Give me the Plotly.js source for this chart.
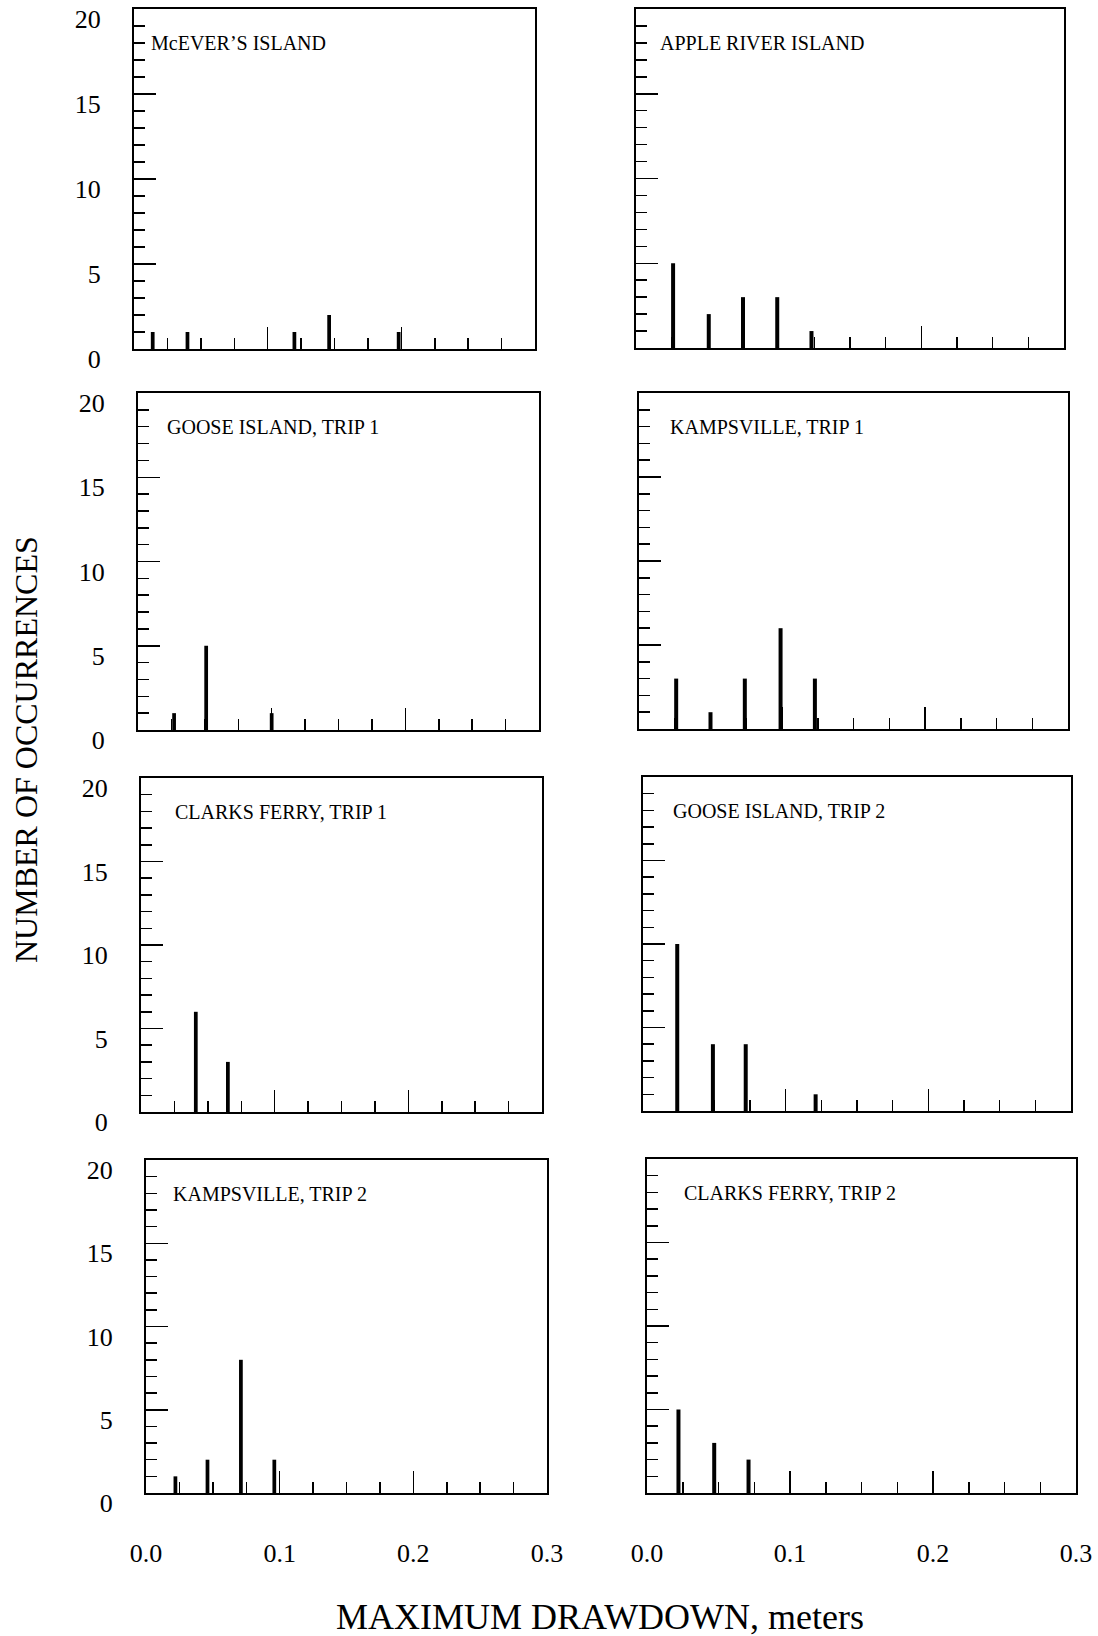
<!DOCTYPE html>
<html>
<head>
<meta charset="utf-8">
<script src="https://cdn.plot.ly/plotly-3.0.1.min.js"></script>
<style>
  html, body { margin: 0; padding: 0; background: #fff; }
  #chart { width: 1098px; height: 1636px; }
</style>
</head>
<body>
<div id="chart"></div>
<script>
// ---------- DATA ----------
const panelNames = [
  "McEVER\u2019S ISLAND", "APPLE RIVER ISLAND",
  "GOOSE ISLAND, TRIP 1", "KAMPSVILLE, TRIP 1",
  "CLARKS FERRY, TRIP 1", "GOOSE ISLAND, TRIP 2",
  "KAMPSVILLE, TRIP 2", "CLARKS FERRY, TRIP 2"
];
const mceverX = [0.014, 0.040, 0.120, 0.146, 0.198];
const mceverY = [1, 1, 1, 2, 1];
const appleX = [0.026, 0.051, 0.075, 0.099, 0.123];
const appleY = [5, 2, 3, 3, 1];
const goose1X = [0.027, 0.051, 0.100];
const goose1Y = [1, 5, 1];
const kamps1X = [0.026, 0.050, 0.074, 0.099, 0.123];
const kamps1Y = [3, 1, 3, 6, 3];
const clarks1X = [0.041, 0.065];
const clarks1Y = [6, 3];
const goose2X = [0.024, 0.049, 0.072, 0.121];
const goose2Y = [10, 4, 4, 1];
const kamps2X = [0.022, 0.046, 0.071, 0.096];
const kamps2Y = [1, 2, 8, 2];
const clarks2X = [0.022, 0.047, 0.071];
const clarks2Y = [5, 3, 2];
const xTickVals = [0, 0.1, 0.2, 0.3];
const xTickText = ["0.0", "0.1", "0.2", "0.3"];
const yTickVals = [0, 5, 10, 15, 20];
const yTickText = ["0", "5", "10", "15", "20"];
const xTitle = "MAXIMUM DRAWDOWN, meters";
const yTitle = "NUMBER OF OCCURRENCES";

const seriesX = [mceverX, appleX, goose1X, kamps1X, clarks1X, goose2X, kamps2X, clarks2X];
const seriesY = [mceverY, appleY, goose1Y, kamps1Y, clarks1Y, goose2Y, kamps2Y, clarks2Y];

// ---------- LAYOUT (pixel boxes of each panel) ----------
const W = 1098, H = 1636;
const boxes = [
  [134, 535, 9, 349], [636, 1064, 9, 348],
  [138, 539, 393, 730], [639, 1068, 393, 729],
  [141, 542, 778, 1112], [643, 1071, 777, 1111],
  [146, 547, 1160, 1493], [647, 1076, 1159, 1493]
];
const labelPos = [
  [149, 43], [658, 43], [165, 427], [668, 427],
  [173, 812], [671, 811], [171, 1194], [682, 1193]
];
const px = v => v / W;
const py = v => 1 - v / H;
const FONT = "Liberation Serif, Times New Roman, serif";

const traces = [];
const layout = {
  width: W, height: H,
  margin: {l: 0, r: 0, t: 0, b: 0},
  paper_bgcolor: "white", plot_bgcolor: "white",
  showlegend: false,
  font: {family: FONT, color: "black", size: 24},
  annotations: []
};

for (let i = 0; i < 8; i++) {
  const n = i + 1;
  const xa = "x" + (n === 1 ? "" : n);
  const ya = "y" + (n === 1 ? "" : n);
  traces.push({
    type: "bar", x: seriesX[i], y: seriesY[i],
    width: 0.0028, marker: {color: "black", line: {width: 0}},
    xaxis: xa, yaxis: ya, hoverinfo: "x+y"
  });
  const b = boxes[i];
  const bottomRow = i >= 6;
  const leftCol = i % 2 === 0;
  layout["xaxis" + (n === 1 ? "" : n)] = {
    domain: [px(b[0]), px(b[1])], anchor: ya,
    range: [0, 0.3], showgrid: false, zeroline: false,
    showline: true, mirror: true, linecolor: "black", linewidth: 2,
    ticks: "inside", ticklen: 22, tickwidth: 1.5, tickcolor: "black",
    tickmode: "array", tickvals: xTickVals, ticktext: xTickText,
    showticklabels: bottomRow, ticklabelstandoff: 36,
    tickfont: {family: FONT, size: 26, color: "black"},
    minor: {tickmode: "linear", tick0: 0, dtick: 0.025, ticks: "inside",
            ticklen: 11, tickwidth: 1.5, tickcolor: "black", showgrid: false},
    fixedrange: true
  };
  layout["yaxis" + (n === 1 ? "" : n)] = {
    domain: [py(b[3]), py(b[2])], anchor: xa,
    range: [0, 20], showgrid: false, zeroline: false,
    showline: true, mirror: true, linecolor: "black", linewidth: 2,
    ticks: "inside", ticklen: 22, tickwidth: 1.5, tickcolor: "black",
    tickmode: "array", tickvals: yTickVals, ticktext: yTickText,
    showticklabels: leftCol, ticklabelstandoff: 26, ticklabelshift: 10,
    tickfont: {family: FONT, size: 26, color: "black"},
    minor: {tickmode: "linear", tick0: 0, dtick: 1, ticks: "inside",
            ticklen: 11, tickwidth: 1.5, tickcolor: "black", showgrid: false},
    fixedrange: true
  };
  layout.annotations.push({
    text: panelNames[i], xref: "paper", yref: "paper",
    x: px(labelPos[i][0]), y: py(labelPos[i][1]),
    xanchor: "left", yanchor: "middle", showarrow: false,
    font: {family: FONT, size: 20, color: "black"}
  });
}

layout.annotations.push({
  text: xTitle, xref: "paper", yref: "paper",
  x: px(600), y: py(1617), xanchor: "center", yanchor: "middle",
  showarrow: false, font: {family: FONT, size: 36, color: "black"}
});
layout.annotations.push({
  text: yTitle, xref: "paper", yref: "paper",
  x: px(26), y: py(750), xanchor: "center", yanchor: "middle", textangle: -90,
  showarrow: false, font: {family: FONT, size: 32, color: "black"}
});

Plotly.newPlot("chart", traces, layout, {displayModeBar: false, staticPlot: true});
</script>
</body>
</html>
